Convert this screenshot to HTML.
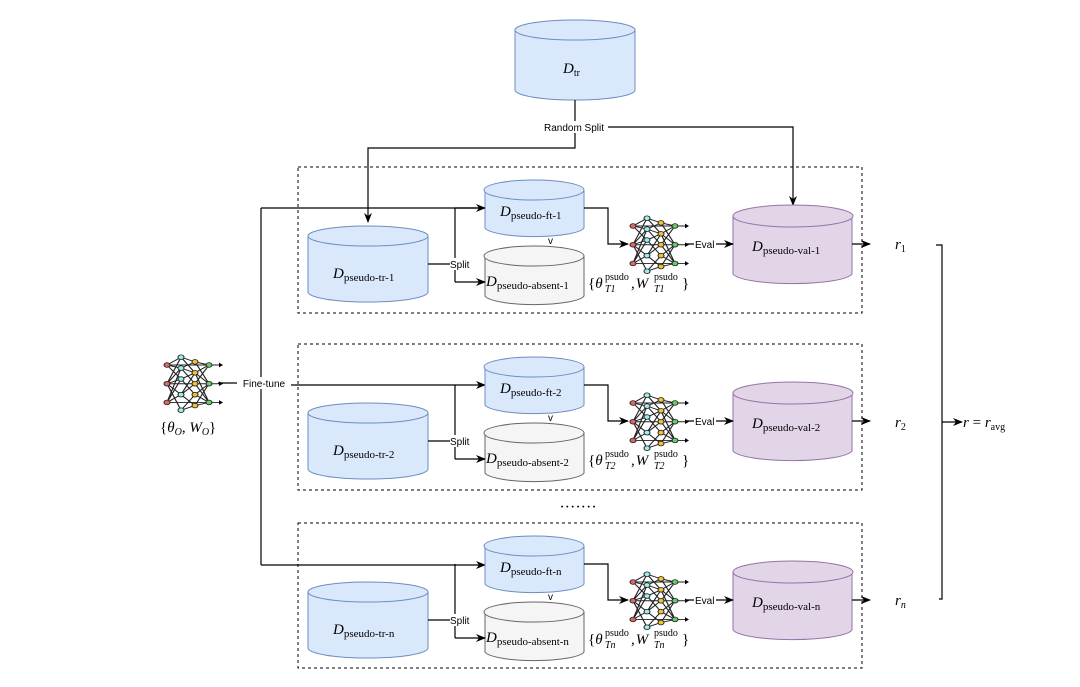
<!DOCTYPE html>
<html><head><meta charset="utf-8"><style>
html,body{margin:0;padding:0;background:#fff;}
svg{display:block;}
text{font-family:"Liberation Serif",serif;fill:#000;}
.s{font-family:"Liberation Sans",sans-serif;font-size:10px;}
</style></head><body>
<svg width="1080" height="687" viewBox="0 0 1080 687" xmlns="http://www.w3.org/2000/svg">
<defs>
<marker id="a" markerWidth="10" markerHeight="8" refX="9" refY="4" orient="auto" markerUnits="userSpaceOnUse">
<path d="M0,0 L10,4 L0,8 L3,4 z" fill="#000"/></marker>
<g id="nn0">
<g stroke="#222" stroke-width="1.2">
<path d="M0,0 L14,-10 M0,0 L14,4 M0,0 L14,18 M0,24 L14,-10 M0,24 L14,4 M0,24 L14,18 M0,24 L14,38 M0,48 L14,18 M0,48 L14,38 M0,48 L14,4 M0,24 L14,58"/>
<path d="M14,-10 L28,-4 M14,-10 L28,10 M14,4 L28,-4 M14,4 L28,24 M14,18 L28,10 M14,18 L28,38 M14,38 L28,24 M14,38 L28,52 M14,58 L28,38 M14,58 L28,52 M14,4 L28,10 M14,38 L28,10"/>
<path d="M28,-4 L42,0 M28,-4 L42,24 M28,10 L42,0 M28,10 L42,48 M28,24 L42,0 M28,24 L42,48 M28,38 L42,24 M28,38 L42,48 M28,52 L42,24 M28,52 L42,48 M28,10 L42,24"/>
<path d="M0,0 L42,0 M0,24 L42,24 M0,48 L42,48 M42,0 L52,0 M42,24 L52,24 M42,48 L52,48"/>
</g>
<g stroke="#222" stroke-width="1">
<circle cx="0" cy="0" r="3" fill="#e06666"/><circle cx="0" cy="24" r="3" fill="#e06666"/><circle cx="0" cy="48" r="3" fill="#e06666"/>
<circle cx="14" cy="-10" r="3" fill="#9ee"/><circle cx="14" cy="4" r="3" fill="#9ee"/><circle cx="14" cy="18" r="3" fill="#9ee"/><circle cx="14" cy="38" r="3" fill="#9ee"/><circle cx="14" cy="58" r="3" fill="#9ee"/>
<circle cx="28" cy="-4" r="3" fill="#f1c232"/><circle cx="28" cy="10" r="3" fill="#f1c232"/><circle cx="28" cy="24" r="3" fill="#f1c232"/><circle cx="28" cy="38" r="3" fill="#f1c232"/><circle cx="28" cy="52" r="3" fill="#f1c232"/>
<circle cx="42" cy="0" r="3" fill="#6c6"/><circle cx="42" cy="24" r="3" fill="#6c6"/><circle cx="42" cy="48" r="3" fill="#6c6"/>
</g>
<path d="M52,-3 L56,0 L52,3z M52,21 L56,24 L52,27z M52,45 L56,48 L52,51z" fill="#000"/>
</g>
<g id="nn"><g transform="translate(0,6) scale(1,0.78)"><use href="#nn0"/></g></g>
<g id="blk">
<path d="M308,236 L308,292 A60,10 0 0 0 428,292 L428,236" fill="#dae8fc" stroke="#6c8ebf"/>
<ellipse cx="368" cy="236" rx="60" ry="10" fill="#dae8fc" stroke="#6c8ebf"/>
<path d="M485,190 L485,228 A50,10 0 0 0 584,228 L584,190" fill="#dae8fc" stroke="#6c8ebf"/>
<ellipse cx="534" cy="190" rx="50" ry="10" fill="#dae8fc" stroke="#6c8ebf"/>
<path d="M485,256 L485,296 A50,10 0 0 0 584,296 L584,256" fill="#f5f5f5" stroke="#666"/>
<ellipse cx="534" cy="256" rx="50" ry="10" fill="#f5f5f5" stroke="#666"/>
<path d="M733,216 L733,274 A60,11 0 0 0 852,274 L852,216" fill="#e1d5e7" stroke="#9673a6"/>
<ellipse cx="793" cy="216" rx="60" ry="11" fill="#e1d5e7" stroke="#9673a6"/>
<g fill="none" stroke="#000" stroke-width="1.2">
<path d="M428,264 L455,264"/><path d="M455,208 L455,282"/>
<path d="M455,282 L485,282" marker-end="url(#a)"/>
<path d="M584,208 L608,208 L608,244 L628,244" marker-end="url(#a)"/>
<path d="M686,244 L733,244" marker-end="url(#a)"/>
<path d="M852,244 L870,244" marker-end="url(#a)"/>
</g>
<rect x="450" y="258" width="24" height="12" fill="#fff"/>
<text class="s" x="450" y="268">Split</text>
<rect x="694" y="238" width="22" height="12" fill="#fff"/>
<text class="s" x="695" y="248">Eval</text>
<text class="s" x="548" y="244">v</text>
<use href="#nn" x="633" y="220"/>
</g>
</defs>

<path d="M515,30 L515,90 A60,10 0 0 0 635,90 L635,30" fill="#dae8fc" stroke="#6c8ebf"/>
<ellipse cx="575" cy="30" rx="60" ry="10" fill="#dae8fc" stroke="#6c8ebf"/>
<text x="563" y="73" font-size="15"><tspan font-style="italic">D</tspan><tspan font-size="10" dy="3">tr</tspan></text>

<g fill="none" stroke="#000" stroke-width="1.2">
<path d="M575,100 L575,121"/>
<path d="M575,133 L575,148 L368,148 L368,222" marker-end="url(#a)"/>
<path d="M607,127 L793,127 L793,205" marker-end="url(#a)"/>
</g>
<rect x="540" y="121" width="68" height="12" fill="#fff"/>
<text class="s" x="574" y="131" text-anchor="middle">Random Split</text>

<g fill="none" stroke="#000" stroke-width="1.2">
<path d="M218,383 L261,383"/>
<path d="M261,208 L261,565"/>
<path d="M261,208 L485,208" marker-end="url(#a)"/>
<path d="M261,385 L485,385" marker-end="url(#a)"/>
<path d="M261,565 L485,565" marker-end="url(#a)"/>
</g>
<rect x="237" y="377" width="54" height="12" fill="#fff"/>
<text class="s" x="264" y="387" text-anchor="middle">Fine-tune</text>
<use href="#nn" x="167" y="359"/>
<text x="160" y="432" font-size="15">{<tspan font-style="italic">θ</tspan><tspan font-size="10" font-style="italic" dy="3">O</tspan><tspan dy="-3">, </tspan><tspan font-style="italic">W</tspan><tspan font-size="10" font-style="italic" dy="3">O</tspan><tspan dy="-3">}</tspan></text>

<g fill="none" stroke="#000" stroke-width="1.2">
<path d="M936,245 L942,245 L942,599 L939,599"/>
<path d="M942,422 L962,422" marker-end="url(#a)"/>
</g>
<text x="963" y="427" font-size="15"><tspan font-style="italic">r</tspan> = <tspan font-style="italic">r</tspan><tspan font-size="10" dy="3">avg</tspan></text>

<text x="578" y="512" font-size="16" text-anchor="middle" font-family="Liberation Sans">·······</text>

<rect x="298" y="167" width="564" height="146" fill="none" stroke="#000" stroke-dasharray="3,3"/>
<rect x="298" y="344" width="564" height="146" fill="none" stroke="#000" stroke-dasharray="3,3"/>
<rect x="298" y="523" width="564" height="145" fill="none" stroke="#000" stroke-dasharray="3,3"/>
<use href="#blk"/>
<use href="#blk" y="177"/>
<use href="#blk" y="356"/>
<path d="M455,208 L485,208" stroke="#000" stroke-width="1.2"/>

<g font-size="15">
<text x="333" y="278"><tspan font-style="italic">D</tspan><tspan font-size="11" dy="3">pseudo-tr-1</tspan></text>
<text x="333" y="455"><tspan font-style="italic">D</tspan><tspan font-size="11" dy="3">pseudo-tr-2</tspan></text>
<text x="333" y="634"><tspan font-style="italic">D</tspan><tspan font-size="11" dy="3">pseudo-tr-n</tspan></text>
<text x="500" y="216"><tspan font-style="italic">D</tspan><tspan font-size="11" dy="3">pseudo-ft-1</tspan></text>
<text x="500" y="393"><tspan font-style="italic">D</tspan><tspan font-size="11" dy="3">pseudo-ft-2</tspan></text>
<text x="500" y="572"><tspan font-style="italic">D</tspan><tspan font-size="11" dy="3">pseudo-ft-n</tspan></text>
<text x="486" y="286"><tspan font-style="italic">D</tspan><tspan font-size="11" dy="3">pseudo-absent-1</tspan></text>
<text x="486" y="463"><tspan font-style="italic">D</tspan><tspan font-size="11" dy="3">pseudo-absent-2</tspan></text>
<text x="486" y="642"><tspan font-style="italic">D</tspan><tspan font-size="11" dy="3">pseudo-absent-n</tspan></text>
<text x="752" y="251"><tspan font-style="italic">D</tspan><tspan font-size="11" dy="3">pseudo-val-1</tspan></text>
<text x="752" y="428"><tspan font-style="italic">D</tspan><tspan font-size="11" dy="3">pseudo-val-2</tspan></text>
<text x="752" y="607"><tspan font-style="italic">D</tspan><tspan font-size="11" dy="3">pseudo-val-n</tspan></text>
<text x="895" y="249" font-style="italic">r<tspan font-size="10" font-style="normal" dy="3">1</tspan></text>
<text x="895" y="427" font-style="italic">r<tspan font-size="10" font-style="normal" dy="3">2</tspan></text>
<text x="895" y="605" font-style="italic">r<tspan font-size="10" dy="3">n</tspan></text>
</g>

<g font-size="15">
<text x="588" y="288">{<tspan font-style="italic">θ</tspan></text>
<text x="605" y="280" font-size="10">psudo</text>
<text x="605" y="292" font-size="10" font-style="italic">T1</text>
<text x="631" y="288">,<tspan font-style="italic" dx="1">W</tspan></text>
<text x="654" y="280" font-size="10">psudo</text>
<text x="654" y="292" font-size="10" font-style="italic">T1</text>
<text x="682" y="288">}</text>
</g>
<g font-size="15" transform="translate(0,177)">
<text x="588" y="288">{<tspan font-style="italic">θ</tspan></text>
<text x="605" y="280" font-size="10">psudo</text>
<text x="605" y="292" font-size="10" font-style="italic">T2</text>
<text x="631" y="288">,<tspan font-style="italic" dx="1">W</tspan></text>
<text x="654" y="280" font-size="10">psudo</text>
<text x="654" y="292" font-size="10" font-style="italic">T2</text>
<text x="682" y="288">}</text>
</g>
<g font-size="15" transform="translate(0,356)">
<text x="588" y="288">{<tspan font-style="italic">θ</tspan></text>
<text x="605" y="280" font-size="10">psudo</text>
<text x="605" y="292" font-size="10" font-style="italic">Tn</text>
<text x="631" y="288">,<tspan font-style="italic" dx="1">W</tspan></text>
<text x="654" y="280" font-size="10">psudo</text>
<text x="654" y="292" font-size="10" font-style="italic">Tn</text>
<text x="682" y="288">}</text>
</g>
</svg>
</body></html>
